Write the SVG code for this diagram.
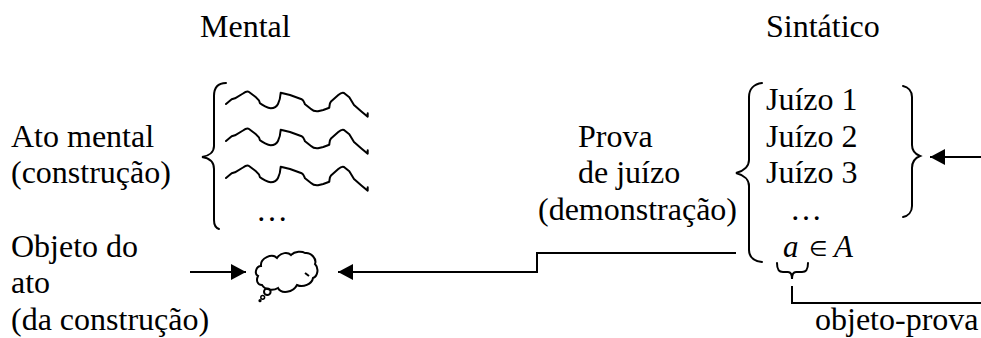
<svg xmlns="http://www.w3.org/2000/svg" width="981" height="338" viewBox="0 0 981 338">
  <style>
    text { font-family: "Liberation Serif", "Times New Roman", serif; font-size: 32px; fill: #000; }
    .math { font-style: italic; font-size: 31px; }
    .rel { font-family: "DejaVu Sans", "Liberation Sans", sans-serif; font-size: 21px; }
    .line { fill: none; stroke: #000; stroke-width: 2; }
    .brace { fill: none; stroke: #000; stroke-width: 2; stroke-linecap: round; }
    .wave { fill: none; stroke: #000; stroke-width: 2; stroke-linejoin: round; stroke-linecap: round; }
  </style>
  <defs>
    <marker id="arrow" markerUnits="userSpaceOnUse" markerWidth="16" markerHeight="16" refX="15" refY="8" orient="auto">
      <path d="M0 0L15 8L0 16Z" fill="#000"/>
    </marker>
    <!-- one hand-drawn stroke of the thought scribble, reused per row -->
    <path id="squiggle" d="M226 104L231.7 99.3L235 98.3L243 93.5C245 92 247 90.5 249 92L255 96.5C258 99 259.5 100 260 103.3C262 105 268 108 270.7 108.3C275 108 277 106 278 104C280 100 280.5 96 280.7 92.7L290 95L301.7 99.3C303.5 100 304 102 305 104.3L311 109C313 111 316 111.5 318 111.3L323.3 110L329.3 107.7C329.6 105 329.5 103 331 101.5L338.3 95C340 93.5 342 92 344 93L349.3 97.3L354 105L361.7 111.7L367.7 116.7V113.3"/>
  </defs>

  <g id="header-mental"><text x="200" y="37">Mental</text></g>
  <g id="header-sintatico"><text x="766" y="37">Sintático</text></g>

  <g id="ato-mental">
    <text x="11" y="147">Ato mental</text>
    <text x="11" y="183">(construção)</text>
    <path class="brace" d="M226 83C218 83 214 88 214 96V146C214 152 209 156 202 157C209 158 214 162 214 169V220C214 225 216 228 219 229"/>
    <use href="#squiggle" class="wave"/>
    <use href="#squiggle" class="wave" y="37"/>
    <use href="#squiggle" class="wave" y="74"/>
    <text x="256" y="221">…</text>
  </g>

  <g id="objeto-do-ato">
    <text x="11" y="257">Objeto do</text>
    <text x="11" y="293">ato</text>
    <text x="11" y="330">(da construção)</text>
  </g>

  <g id="pensamento">
    <path class="line" d="M262 285C257 285 256 280 258 276C254 274 256 266 261 266C260 258 272 253 277 258C281 252 288 252 291 255C295 251 302 251 305 253C311 252 317 259 315 264C319 268 318 276 313 278C312 284 303 288 297 285C293 293 281 294 278 288C273 291 265 290 262 285Z"/>
    <path class="line" d="M305 273L309 276" stroke-width="1.5"/>
    <circle class="line" cx="267.3" cy="291.7" r="3.3"/>
    <circle cx="262.7" cy="297.3" r="1.9" fill="#fff" stroke="#000" stroke-width="1.5"/>
    <circle cx="260" cy="300.7" r="1.6" fill="#000"/>
  </g>

  <g id="prova-de-juizo">
    <text x="578" y="147">Prova</text>
    <text x="578" y="183">de juízo</text>
    <text x="538" y="220">(demonstração)</text>
  </g>

  <g id="juizos">
    <text x="766" y="110">Juízo 1</text>
    <text x="766" y="147">Juízo 2</text>
    <text x="766" y="183">Juízo 3</text>
    <text x="790" y="220">…</text>
    <text class="math" x="783" y="257">a</text>
    <text class="rel" x="809" y="256">∈</text>
    <text class="math" x="834" y="257">A</text>
    <path class="brace" d="M762 83C754 84 749 89 749 97V160C749 166 744 171 736 173C744 175 749 180 749 186V250C749 257 754 261 762 262"/>
    <path class="brace" d="M903 86C908 87 912 91 912 97V145C912 151 915 154 920 156C915 158 912 162 912 168V206C912 212 908 216 903 217"/>
    <path class="brace" d="M777 263C777 270 779 272 783 272H788C791 272 792 274 792 279C792 274 793 272 796 272H802C806 272 808 270 808 263"/>
  </g>

  <g id="objeto-prova"><text x="815" y="330">objeto-prova</text></g>

  <g id="connectors">
    <path class="line" d="M981 157H930" marker-end="url(#arrow)"/>
    <path class="line" d="M190 272H246" marker-end="url(#arrow)"/>
    <path class="line" d="M736 253H537V272H338" marker-end="url(#arrow)"/>
    <path class="line" d="M792 286V303H981"/>
  </g>
</svg>
